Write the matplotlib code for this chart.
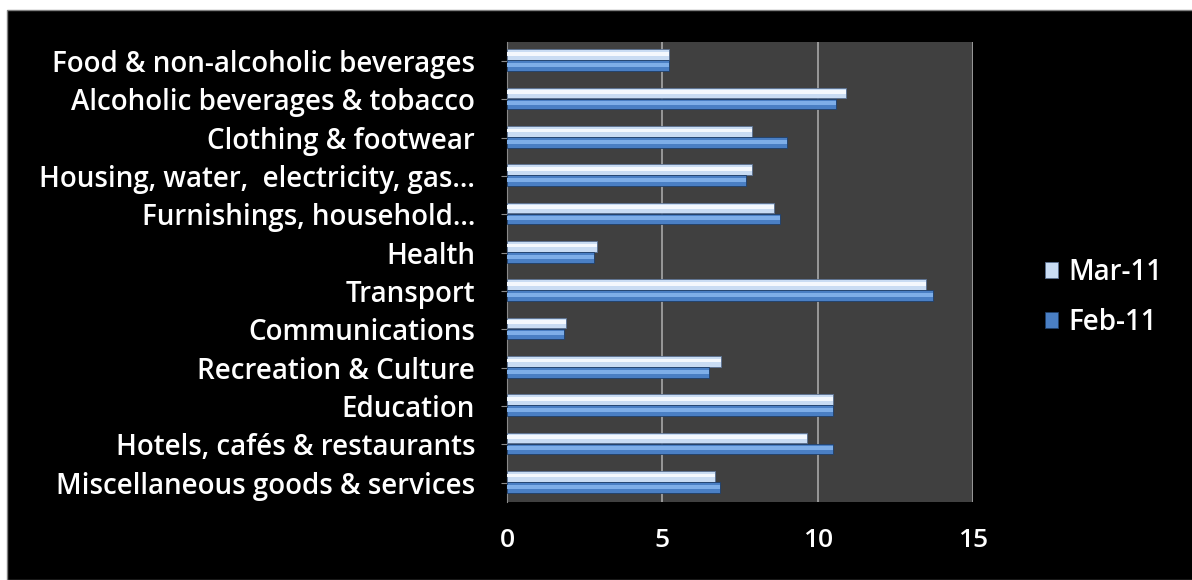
import numpy as np
import matplotlib.pyplot as plt
from matplotlib.patches import Rectangle

categories = ['Food & non-alcoholic beverages', 'Alcoholic beverages & tobacco',
              'Clothing & footwear', 'Housing, water,  electricity, gas...',
              'Furnishings, household...', 'Health', 'Transport', 'Communications',
              'Recreation & Culture', 'Education', 'Hotels, cafés & restaurants',
              'Miscellaneous goods & services']
mar11 = [5.2, 10.9, 7.9, 7.9, 8.6, 2.9, 13.5, 1.9, 6.9, 10.5, 9.65, 6.7]
feb11 = [5.2, 10.6, 9.0, 7.7, 8.8, 2.8, 13.7, 1.85, 6.5, 10.5, 10.5, 6.85]
xticks = [0, 5, 10, 15]

plt.rcParams['font.family'] = ['Open Sans', 'DejaVu Sans']

fig = plt.figure(figsize=(11.92, 5.8), dpi=100, facecolor='white')
# black chart area inside a thin white margin (top and left)
fig.patches.append(Rectangle((7 / 1192, 0), 1, 1 - 10 / 580, transform=fig.transFigure,
                             facecolor='black', edgecolor='#808080', lw=1, zorder=-10))

ax = fig.add_axes([507 / 1192, 1 - 502 / 580, 466 / 1192, 460 / 580])
ax.set_facecolor('#404040')

y = np.arange(len(categories))
h = 0.28
# Mar-11 upper bar, Feb-11 lower bar
ax.barh(y - 0.17, mar11, height=h, color='#c9dcf3', edgecolor='#5a7090', lw=0.6,
        label='Mar-11', zorder=3)
ax.barh(y - 0.19, mar11, height=0.1, color='#f4f8fd', lw=0, zorder=4)
ax.barh(y + 0.12, feb11, height=h, color='#4a7fc4', edgecolor='#1f3f6a', lw=0.6,
        label='Feb-11', zorder=3)
ax.barh(y + 0.10, feb11, height=0.1, color='#7eaee8', lw=0, zorder=4)

ax.set_ylim(len(categories) - 0.5, -0.5)
ax.set_xlim(0, 15)
ax.set_xticks(xticks)
ax.set_xticklabels([str(v) for v in xticks])
ax.set_yticks(y)
ax.set_yticklabels(categories)

ax.grid(axis='x', color='#a8a8a8', lw=1.2, zorder=1)
for s in ['top', 'right', 'bottom']:
    ax.spines[s].set_visible(False)
ax.spines['left'].set_color('#8a8a8a')
ax.tick_params(axis='x', colors='white', labelsize=19, length=0, pad=19)
ax.tick_params(axis='y', colors='white', labelsize=20, length=4, pad=19,
               labelcolor='white', color='#8a8a8a')
for t in ax.get_xticklabels() + ax.get_yticklabels():
    t.set_fontweight('semibold')

leg = ax.legend(loc='center left', bbox_to_anchor=(1.1, 0.445), frameon=False,
                fontsize=20, handlelength=0.5, handleheight=0.5, labelspacing=0.75,
                handletextpad=0.35)
for t in leg.get_texts():
    t.set_color('white')
    t.set_fontweight('semibold')

fig.savefig('out.png', dpi=100, facecolor=fig.get_facecolor())
